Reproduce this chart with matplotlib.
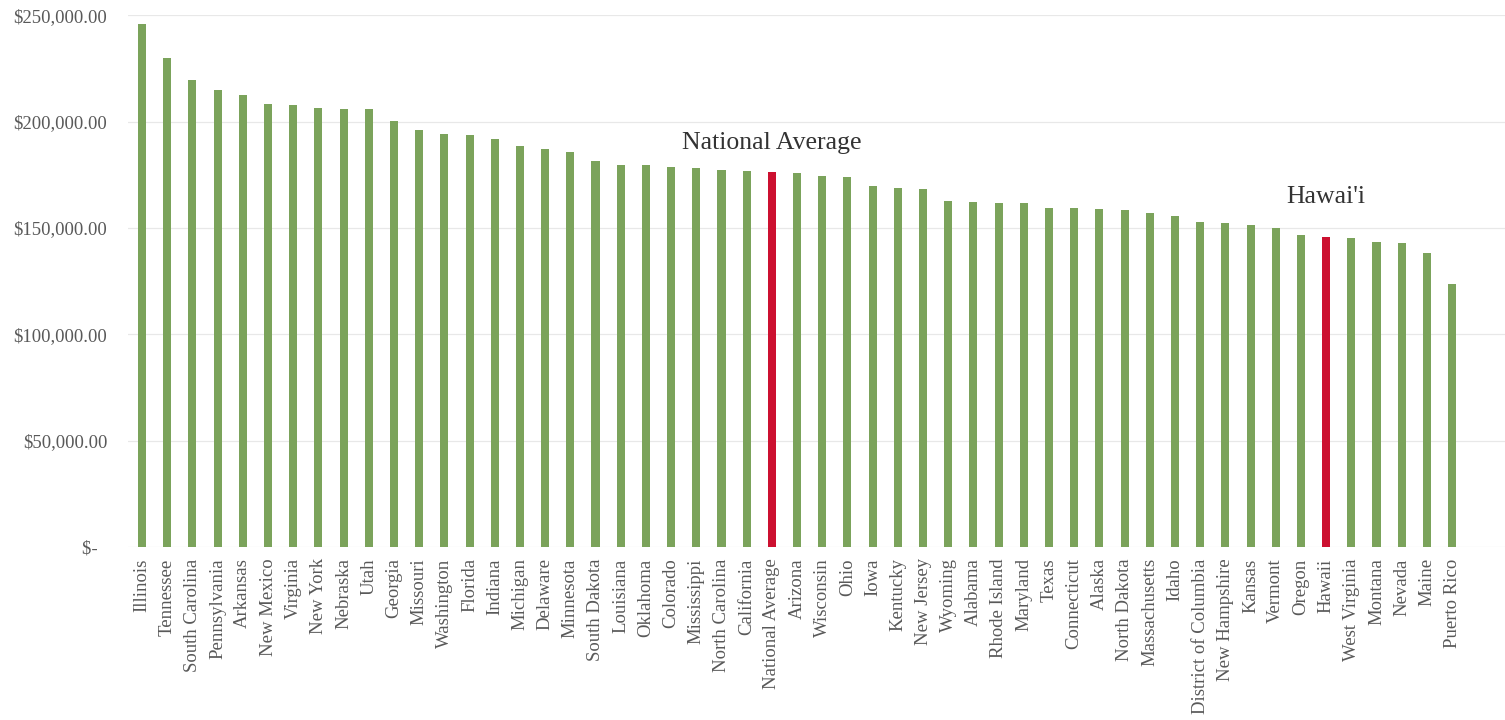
import matplotlib
matplotlib.use("Agg")
import matplotlib.pyplot as plt

states = ["Illinois", "Tennessee", "South Carolina", "Pennsylvania", "Arkansas",
          "New Mexico", "Virginia", "New York", "Nebraska", "Utah", "Georgia",
          "Missouri", "Washington", "Florida", "Indiana", "Michigan", "Delaware",
          "Minnesota", "South Dakota", "Louisiana", "Oklahoma", "Colorado",
          "Mississippi", "North Carolina", "California", "National Average",
          "Arizona", "Wisconsin", "Ohio", "Iowa", "Kentucky", "New Jersey",
          "Wyoming", "Alabama", "Rhode Island", "Maryland", "Texas", "Connecticut",
          "Alaska", "North Dakota", "Massachusetts", "Idaho", "District of Columbia",
          "New Hampshire", "Kansas", "Vermont", "Oregon", "Hawaii", "West Virginia",
          "Montana", "Nevada", "Maine", "Puerto Rico"]

values = [245600, 230000, 219500, 215000, 212400, 208300, 208000, 206400, 206000,
          205800, 200300, 196000, 194000, 193900, 191600, 188400, 186900, 185800,
          181500, 179800, 179700, 178600, 178000, 177300, 176700, 176500, 175800,
          174200, 173900, 169500, 169000, 168100, 162500, 162400, 161800, 161700,
          159300, 159200, 158700, 158400, 157000, 155500, 152600, 152300, 151300,
          150200, 146600, 145700, 145400, 143200, 142900, 138200, 123700]

highlight = ["National Average", "Hawaii"]
yticks = [0, 50000, 100000, 150000, 200000, 250000]
ytick_labels = ["$-  ", "$50,000.00", "$100,000.00", "$150,000.00",
                "$200,000.00", "$250,000.00"]

green = "#7ba35b"
red = "#cc1030"
gray = "#595959"

plt.rcParams["font.family"] = ["Liberation Serif", "DejaVu Serif"]

fig = plt.figure(figsize=(15.05, 7.2), dpi=100)
ax = fig.add_axes([0.085, 0.24, 0.915, 0.739])

x = list(range(len(states)))
colors = [red if s in highlight else green for s in states]
ax.bar(x, values, width=0.32, color=colors, zorder=3)

ax.set_xlim(-0.56, 54.1)
ax.set_ylim(0, 250000)
ax.set_yticks(yticks)
ax.set_yticklabels(ytick_labels, fontsize=13.5, color=gray)
ax.set_xticks(x)
ax.set_xticklabels(states, rotation=90, fontsize=13.5, color=gray, va="top", ha="center")
ax.tick_params(axis="both", length=0)
ax.tick_params(axis="y", pad=15)
ax.tick_params(axis="x", pad=8)

ax.grid(axis="y", color="#e8e8e8", linewidth=0.9, zorder=0)
for sp in ax.spines.values():
    sp.set_visible(False)

ax.text(states.index("National Average"), 189800, "National Average",
        fontsize=18.5, color="#333333", ha="center", va="center")
ax.text(states.index("Hawaii"), 164500, "Hawai'i",
        fontsize=18.5, color="#333333", ha="center", va="center")

fig.savefig("out.png", dpi=100)
